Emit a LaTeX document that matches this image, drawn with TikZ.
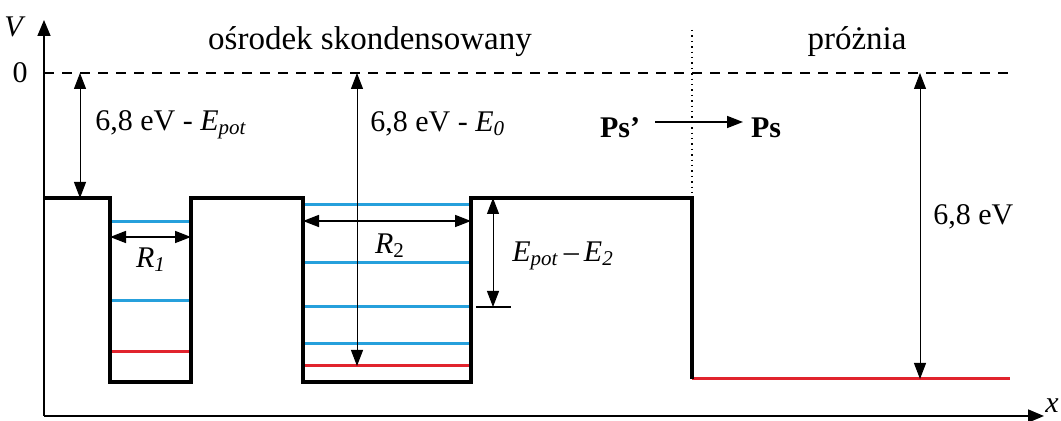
\documentclass[tikz,border=0pt]{standalone}
\usepackage{fontspec}
\setmainfont{Liberation Serif}
\usetikzlibrary{arrows.meta,positioning}
\definecolor{LvlBlue}{RGB}{38,160,220}
\definecolor{LvlRed}{RGB}{225,35,45}
\newcommand{\Esub}[2]{\textit{#1}\textsubscript{\textit{#2}}}

\begin{document}
\begin{tikzpicture}[x=0.5pt,y=-0.5pt,
    every node/.style={font=\fontsize{15}{18}\selectfont, inner sep=0pt},
    heading/.style={font=\fontsize{16.5}{20}\selectfont},
    profile/.style={line width=1.7pt, line join=miter},
    axis/.style={line width=0.8pt, -{Triangle[length=8pt,width=6.5pt]}},
    dim/.style={line width=0.5pt, {Triangle[length=8pt,width=6pt]}-{Triangle[length=8pt,width=6pt]}},
    bluelevel/.style={LvlBlue, line width=1.5pt},
    redlevel/.style={LvlRed, line width=1.5pt}]
    \useasboundingbox (0,0) rectangle (1061,421);
    % axes
    \coordinate (o) at (44,416);
    \coordinate (vtop) at (44,20);
    \coordinate (xend) at (1044,416);
    \draw[axis] (o) -- (vtop);
    \draw[axis] (o) -- (xend);
    \node (vlab) at (15,27) {\textit{V}};
    \node[anchor=east] (xlab) at (1059,406) {\textit{x}};
    % zero level
    \node (zero) at (20,73) {0};
    \coordinate (z0) at (44,73);
    \coordinate (z1) at (1010,73);
    \draw[line width=0.8pt, dash pattern=on 5pt off 4pt] (z0) -- (z1);
    % regions
    \node[heading] (medium) at (370,42) {ośrodek skondensowany};
    \node[heading] (vacuum) at (857,42) {próżnia};
    \draw[line width=0.7pt, dotted] (692,30) -- (692,198);
    % energy levels
    \foreach \y in {222,301} \draw[bluelevel] (110,\y) -- (191,\y);
    \draw[redlevel] (110,352) -- (191,352);
    \foreach \y in {205,263,307,344} \draw[bluelevel] (303,\y) -- (471,\y);
    \draw[redlevel] (303,366) -- (471,366);
    \draw[redlevel] (692,379) -- (1010,379);
    % potential
    \draw[profile] (44,198) -- (110,198) -- (110,382) -- (191,382) -- (191,198)
      -- (303,198) -- (303,382) -- (471,382) -- (471,198) -- (692,198) -- (692,379);
    % well widths
    \coordinate (r1a) at (110,237);
    \coordinate (r1b) at (191,237);
    \draw[dim, line width=0.8pt] (r1a) -- (r1b);
    \node (r1) at (151,260) {\Esub{R}{1}};
    \coordinate (r2a) at (303,221);
    \coordinate (r2b) at (471,221);
    \draw[dim, line width=0.8pt] (r2a) -- (r2b);
    \node (r2) at (390,246) {\textit{R}\textsubscript{2}};
    % depths
    \coordinate (ep0) at (80,73);
    \coordinate (ep1) at (80,198);
    \draw[dim] (ep0) -- (ep1);
    \node[anchor=west] (eplab) at (95,125) {6,8 eV - \Esub{E}{pot}};
    \coordinate (e00) at (357,73);
    \coordinate (e01) at (357,366);
    \draw[dim] (e00) -- (e01);
    \node[anchor=west] (e0lab) at (370,124) {6,8 eV - \Esub{E}{0}};
    \coordinate (e20) at (493,198);
    \coordinate (e21) at (493,307);
    \draw[dim] (e20) -- (e21);
    \draw[line width=0.8pt] (476,307) -- (511,307);
    \node[anchor=west] (e2lab) at (512,256) {\Esub{E}{pot}\,–\,\Esub{E}{2}};
    \coordinate (v0) at (920,73);
    \coordinate (v1) at (920,379);
    \draw[dim] (v0) -- (v1);
    \node[anchor=west] (vlab2) at (933,217) {6,8 eV};
    % transfer
    \node[font=\fontsize{15}{18}\selectfont\bfseries] (psp) at (620,128) {Ps’};
    \node[font=\fontsize{15}{18}\selectfont\bfseries] (ps) at (766,128) {Ps};
    \draw[line width=0.8pt, -{Triangle[length=8pt,width=6pt]}] (655,122) -- (743,122);
\end{tikzpicture}
\end{document}
